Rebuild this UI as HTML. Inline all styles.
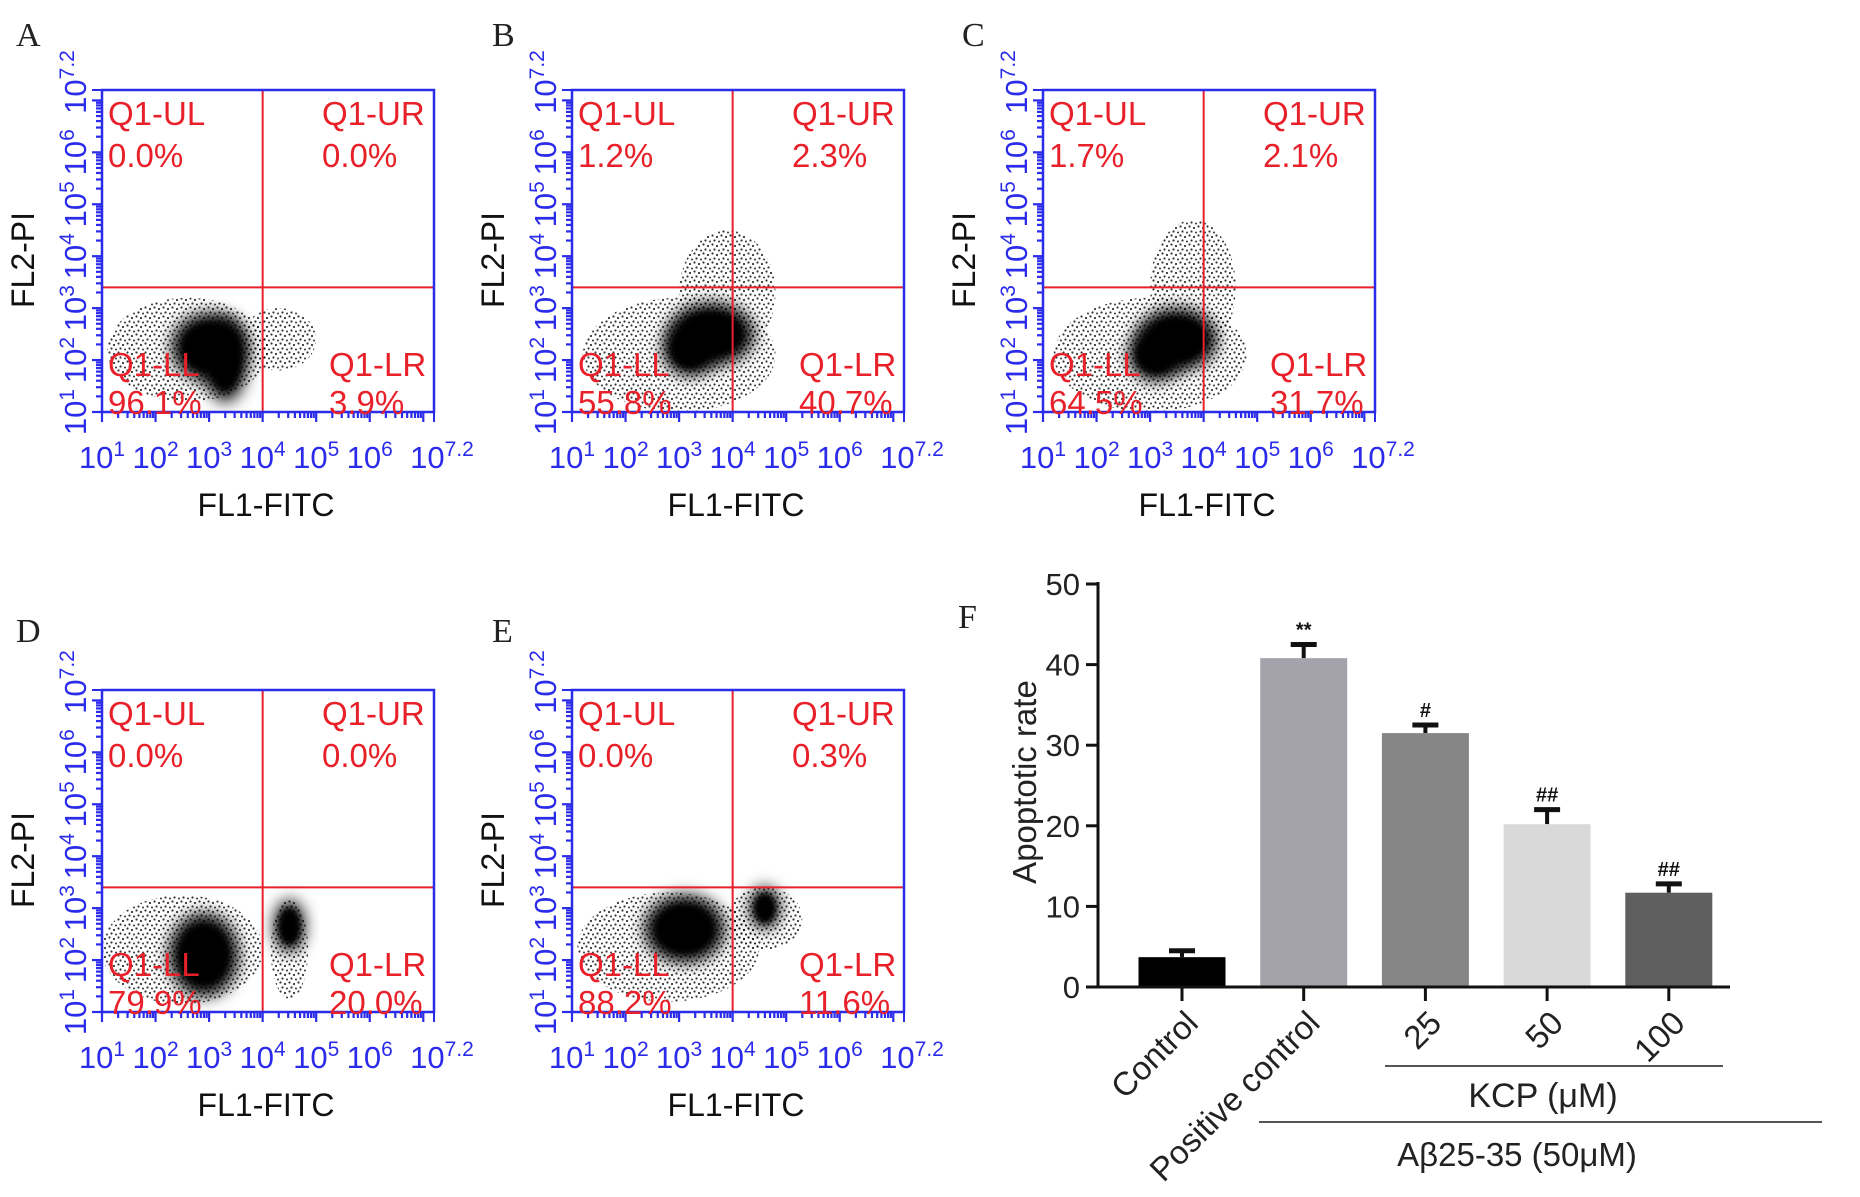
<!DOCTYPE html>
<html><head><meta charset="utf-8"><style>
html,body{margin:0;padding:0;background:#fff;overflow:hidden;}
svg{display:block;font-family:"Liberation Sans",sans-serif;}
.pl{font-family:"Liberation Serif",serif;font-size:34px;fill:#222;}
</style></head><body>
<svg id="fig" width="1860" height="1197" viewBox="0 0 1860 1197" xmlns="http://www.w3.org/2000/svg">
<defs>
<pattern id="dots" width="9" height="9" patternUnits="userSpaceOnUse">
<circle cx="1.5" cy="1.5" r="1.1" fill="#111"/><circle cx="6" cy="3" r="1.1" fill="#111"/><circle cx="3.5" cy="6.5" r="1.1" fill="#111"/><circle cx="8" cy="7.5" r="1" fill="#111"/>
</pattern>
<filter id="blur" x="-50%" y="-50%" width="200%" height="200%"><feGaussianBlur stdDeviation="8"/></filter>
<filter id="blur2" x="-50%" y="-50%" width="200%" height="200%"><feGaussianBlur stdDeviation="3"/></filter>
</defs>
<g id="panels"></g>
<g id="barchart"></g>
</svg>
<script>
// ---- Flow panel data ----
const panelNames = ['A','B','C','D','E'];
const panelOrigins = [[102,90],[572,90],[1043,90],[102,690],[572,690]];
const panelLabelPos = [[16,46],[492,46],[962,46],[16,642],[492,642]];
const quadULs = ['0.0%','1.2%','1.7%','0.0%','0.0%'];
const quadURs = ['0.0%','2.3%','2.1%','0.0%','0.3%'];
const quadLLs = ['96.1%','55.8%','64.5%','79.9%','88.2%'];
const quadLRs = ['3.9%','40.7%','31.7%','20.0%','11.6%'];
const gateX = 4.0, gateY = 3.4;
const xTickExps = ['1','2','3','4','5','6','7.2'];
const xTickVals = [1,2,3,4,5,6,7.2];
// clusters [cx, cy, rx, ry] in log decades
const fringeA = [[2.6,2.2,1.5,1.0],[4.3,2.4,0.7,0.6]];
const coreA = [[3.0,2.25,0.7,0.65],[3.3,2.0,0.4,0.8]];
const fringeB = [[3.0,2.1,1.8,1.1],[3.9,3.3,0.9,1.2]];
const coreB = [[3.6,2.5,0.8,0.6],[3.2,2.2,0.5,0.5]];
const fringeC = [[3.0,2.1,1.8,1.1],[3.8,3.4,0.8,1.3]];
const coreC = [[3.5,2.4,0.75,0.6],[3.1,2.1,0.5,0.5]];
const fringeD = [[2.5,2.2,1.5,1.05],[4.5,2.2,0.35,0.95]];
const coreD = [[2.9,2.1,0.65,0.8],[4.5,2.65,0.28,0.5]];
const fringeE = [[2.8,2.25,1.7,1.05],[4.6,2.8,0.7,0.6]];
const coreE = [[3.1,2.6,0.75,0.65],[4.6,3.0,0.28,0.4]];
const fringes = [fringeA,fringeB,fringeC,fringeD,fringeE];
const cores = [coreA,coreB,coreC,coreD,coreE];

const NS='http://www.w3.org/2000/svg';
function mk(tag, attrs, parent){const e=document.createElementNS(NS,tag);for(const k in attrs)e.setAttribute(k,attrs[k]);if(parent)parent.appendChild(e);return e;}
const PW=332, PH=322, LMIN=1, LMAX=7.2;
const BLUE='#2b2bea', RED='#e8202a';

const pg=document.getElementById('panels');
panelNames.forEach((nm,i)=>{
  const [ox,oy]=panelOrigins[i];
  const sx=v=>ox+(v-LMIN)/(LMAX-LMIN)*PW;
  const sy=v=>oy+PH-(v-LMIN)/(LMAX-LMIN)*PH;
  const g=mk('g',{},pg);
  
  
  const lab=mk('text',{x:panelLabelPos[i][0],y:panelLabelPos[i][1],class:'pl'},g);lab.textContent=nm;
  
  
  const clipId='clip'+i;
  const cp=mk('clipPath',{id:clipId},g);mk('rect',{x:ox,y:oy,width:PW,height:PH},cp);
  const sc=mk('g',{'clip-path':'url(#'+clipId+')'},g);
  
  
  fringes[i].forEach(c=>{mk('ellipse',{cx:sx(c[0]),cy:sy(c[1]),rx:c[2]/6.2*PW,ry:c[3]/6.2*PH,fill:'url(#dots)',opacity:0.85},sc);});
  cores[i].forEach(c=>{mk('ellipse',{cx:sx(c[0]),cy:sy(c[1]),rx:c[2]/6.2*PW,ry:c[3]/6.2*PH,fill:'#000',filter:'url(#blur)'},sc);
    mk('ellipse',{cx:sx(c[0]),cy:sy(c[1]),rx:c[2]/6.2*PW*0.7,ry:c[3]/6.2*PH*0.7,fill:'#000',filter:'url(#blur2)'},sc);});
  const gv=mk('line',{x1:sx(gateX),x2:sx(gateX),y1:oy,y2:oy+PH,stroke:RED,'stroke-width':2},g);
  
  const gh=mk('line',{x1:ox,x2:ox+PW,y1:sy(gateY),y2:sy(gateY),stroke:RED,'stroke-width':2},g);
  
  const bx=mk('rect',{x:ox,y:oy,width:PW,height:PH,fill:'none',stroke:BLUE,'stroke-width':2.5},g);
  
  for(let d=1;d<7.2;d++){for(let m=1;m<10;m++){const v=d+Math.log10(m);if(v>7.2)break;
    const L=m==1?10:6;
    mk('line',{x1:sx(v),x2:sx(v),y1:oy+PH,y2:oy+PH+L,stroke:BLUE,'stroke-width':2.2},g);
    mk('line',{x1:ox-L,x2:ox,y1:sy(v),y2:sy(v),stroke:BLUE,'stroke-width':2.2},g);}}
  mk('line',{x1:sx(7.2),x2:sx(7.2),y1:oy+PH,y2:oy+PH+10,stroke:BLUE,'stroke-width':2},g);
  mk('line',{x1:ox-10,x2:ox,y1:sy(7.2),y2:sy(7.2),stroke:BLUE,'stroke-width':2},g);
  xTickVals.forEach((v,k)=>{
    const t=mk('text',{x:sx(v)+(k==6?8:0),y:oy+PH+56,'text-anchor':'middle','font-size':31,fill:BLUE},g);
    t.innerHTML='10<tspan dy="-12" font-size="21">'+xTickExps[k]+'</tspan>';
    
    const ty=mk('text',{x:0,y:0,'text-anchor':'middle','font-size':31,fill:BLUE,transform:'translate('+(ox-16)+','+(sy(v)-(k==6?8:0))+') rotate(-90)'},g);
    ty.innerHTML='10<tspan dy="-12" font-size="21">'+xTickExps[k]+'</tspan>';
    
  });
  const xt=mk('text',{x:ox+PW/2-2,y:oy+PH+104,'text-anchor':'middle','font-size':32,fill:'#111'},g);xt.textContent='FL1-FITC';
  
  const yt=mk('text',{x:0,y:0,'text-anchor':'middle','font-size':32,fill:'#111',transform:'translate('+(ox-68)+','+(oy+170)+') rotate(-90)'},g);yt.textContent='FL2-PI';
  
  const q=[['Q1-UL',ox+6,oy+35],[quadULs[i],ox+6,oy+77],['Q1-UR',ox+220,oy+35],[quadURs[i],ox+220,oy+77],
           ['Q1-LL',ox+6,oy+PH-36],[quadLLs[i],ox+6,oy+PH+2],['Q1-LR',ox+227,oy+PH-36],[quadLRs[i],ox+227,oy+PH+2]];
  q.forEach(a=>{const t=mk('text',{x:a[1],y:a[2],'font-size':33,fill:RED},g);t.textContent=a[0];
    });
});

// ---- Bar chart data ----
const barCats = ['Control','Positive control','25','50','100'];
const barVals = [3.7, 40.8, 31.5, 20.2, 11.7];
const barErrs = [0.8, 1.7, 1.0, 1.8, 1.1];
const barSigs = ['', '**', '#', '##', '##'];
const barColors = ['#000000','#a4a3ab','#868686','#d9d9d9','#5f5f5f'];
const yTicks = [0,10,20,30,40,50];

const bg=document.getElementById('barchart');
const X0=1098, Y0=987, YTOP=584, BW=87, STEP=121.7, C0=1182;
const yS=v=>Y0-(v/50)*(Y0-YTOP);
const xC=i=>C0+i*STEP;
const fl=mk('text',{x:958,y:628,class:'pl'},bg);fl.textContent='F';

barCats.forEach((c,i)=>{
  const v=barVals[i],e=barErrs[i];
  const eb=mk('g',{},bg);
  
  mk('line',{x1:xC(i),x2:xC(i),y1:yS(v),y2:yS(v+e),stroke:'#111','stroke-width':4},eb);
  mk('line',{x1:xC(i)-13,x2:xC(i)+13,y1:yS(v+e),y2:yS(v+e),stroke:'#111','stroke-width':5},eb);
  const r=mk('rect',{x:xC(i)-BW/2,y:yS(v),width:BW,height:Y0-yS(v),fill:barColors[i]},bg);
  
  if(barSigs[i]){const s=mk('text',{x:xC(i),y:yS(v+e)-8,'text-anchor':'middle','font-size':20,'font-weight':'bold',fill:'#111'},bg);s.textContent=barSigs[i];
    }
  mk('line',{x1:xC(i),x2:xC(i),y1:Y0,y2:Y0+14,stroke:'#111','stroke-width':3},bg);
  const t=mk('text',{x:0,y:0,'text-anchor':'end','font-size':33,fill:'#222',transform:'translate('+(xC(i)+18)+','+(Y0+38)+') rotate(-45)'},bg);t.textContent=c;
  
});
const ax=mk('line',{x1:X0,x2:1730,y1:Y0,y2:Y0,stroke:'#111','stroke-width':3},bg);

const ay=mk('line',{x1:X0,x2:X0,y1:YTOP-2,y2:Y0+1,stroke:'#111','stroke-width':3},bg);

yTicks.forEach(v=>{mk('line',{x1:X0-12,x2:X0,y1:yS(v),y2:yS(v),stroke:'#111','stroke-width':3},bg);
  const t=mk('text',{x:X0-18,y:yS(v)+11,'text-anchor':'end','font-size':31,fill:'#222'},bg);t.textContent=v;
  });
const ytl=mk('text',{x:0,y:0,'text-anchor':'middle','font-size':33,fill:'#222',transform:'translate(1036,782) rotate(-90)'},bg);ytl.textContent='Apoptotic rate';

const l1=mk('line',{x1:1385,x2:1723,y1:1066,y2:1066,stroke:'#555','stroke-width':2},bg);

const t1=mk('text',{x:1543,y:1107,'text-anchor':'middle','font-size':34,fill:'#222'},bg);t1.textContent='KCP (μM)';

const l2=mk('line',{x1:1259,x2:1822,y1:1122,y2:1122,stroke:'#555','stroke-width':2},bg);

const t2=mk('text',{x:1517,y:1166,'text-anchor':'middle','font-size':33,fill:'#222'},bg);t2.textContent='Aβ25-35 (50μM)';

</script>
</body></html>
